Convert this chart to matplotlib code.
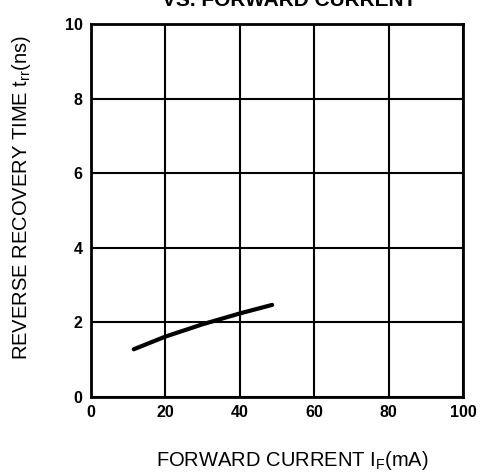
import matplotlib
matplotlib.use("Agg")
import matplotlib.pyplot as plt

# curve
current_ma = [11.5, 20, 30, 40, 48.7]
trr_ns = [1.28, 1.62, 1.95, 2.24, 2.47]
x_ticks = [0, 20, 40, 60, 80, 100]
y_ticks = [0, 2, 4, 6, 8, 10]

plt.rcParams["font.family"] = ["Liberation Sans", "DejaVu Sans"]
plt.rcParams["mathtext.fontset"] = "custom"
plt.rcParams["mathtext.rm"] = "Liberation Sans"

fig = plt.figure(figsize=(4.81, 4.73), dpi=100)
ax = fig.add_axes([91 / 481, 76 / 473, 372 / 481, 373 / 473])

ax.plot(current_ma, trr_ns, color="black", lw=3.0, solid_capstyle="round")
ax.set_xlim(0, 100)
ax.set_ylim(0, 10)
ax.set_xticks(x_ticks)
ax.set_yticks(y_ticks)
ax.grid(True, color="black", lw=1.5)
ax.tick_params(length=0, labelsize=11.5, pad=6)
for lab in ax.get_xticklabels() + ax.get_yticklabels():
    lab.set_fontweight("bold")
for s in ax.spines.values():
    s.set_linewidth(2.0)

ax.set_xlabel(r"FORWARD CURRENT I$_\mathrm{F}$(mA)", fontsize=14.5)
ax.xaxis.set_label_coords(0.54, -0.14)
ax.set_ylabel(r"REVERSE RECOVERY TIME t$_\mathrm{rr}$(ns)", fontsize=14.5)
ax.yaxis.set_label_coords(-0.155, 0.536)

# title is cut off by the top edge in the scan
fig.text(289 / 481, 1 - 6 / 473, "VS. FORWARD CURRENT", ha="center", va="baseline",
         fontsize=15, fontweight="bold")

fig.savefig("out.png", dpi=100)
